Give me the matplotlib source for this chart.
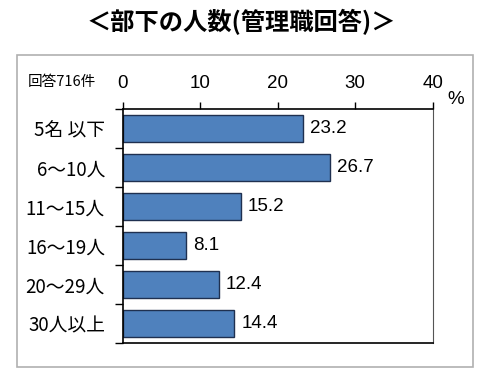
import matplotlib.pyplot as plt
import numpy as np
from matplotlib.patches import Rectangle

plt.rcParams['font.family'] = ['Liberation Sans', 'Noto Sans CJK JP']

categories = ['5名 以下', '6～10人', '11～15人', '16～19人', '20～29人', '30人以上']
values = [23.2, 26.7, 15.2, 8.1, 12.4, 14.4]
xticks = [0, 10, 20, 30, 40]

fig = plt.figure(figsize=(4.82, 3.8), dpi=100)

# outer gray frame
fig.patches.append(Rectangle((17/482, 1-367/380), 456/482, 312/380,
                             transform=fig.transFigure, fill=False,
                             edgecolor='#b0b0b0', linewidth=1.2))

fig.text(0.5, 1-22/380, '＜部下の人数(管理職回答)＞', ha='center', va='center',
         fontsize=17.5, fontweight='bold', family=['Noto Sans CJK JP'])
fig.text(28/482, 1-82/380, '回答716件', ha='left', va='center', fontsize=10.5,
         family=['Noto Sans CJK JP'])
fig.text(456/482, 1-100/380, '%', ha='center', va='center', fontsize=13.5)

ax = fig.add_axes([123/482, 1-343/380, 309.7/482, 234/380])
y = np.arange(len(categories))
bars = ax.barh(y, values, height=0.68, color='#4F81BD', edgecolor='#1F3050', linewidth=1)

for yi, v in zip(y, values):
    ax.text(v + 0.9, yi, f'{v}', va='center', ha='left', fontsize=13.5)

ax.set_xlim(0, 40)
ax.set_ylim(5.5, -0.5)
ax.xaxis.tick_top()
ax.set_xticks(xticks)
ax.set_xticklabels([str(t) for t in xticks], fontsize=13.5)
ax.tick_params(axis='x', direction='out', length=5, width=1, pad=7)

ax.set_yticks(y)
ax.set_yticklabels(categories, fontsize=13.5, family=['Noto Sans CJK JP'])
ax.tick_params(axis='y', which='major', length=0, pad=13)
ax.set_yticks(np.arange(-0.5, 6, 1), minor=True)
ax.tick_params(axis='y', which='minor', direction='out', length=6, width=1)

for s in ['top', 'bottom', 'left']:
    ax.spines[s].set_linewidth(1.2)
    ax.spines[s].set_color('black')
ax.spines['right'].set_color('#555555')

plt.savefig('out.png', dpi=100)
